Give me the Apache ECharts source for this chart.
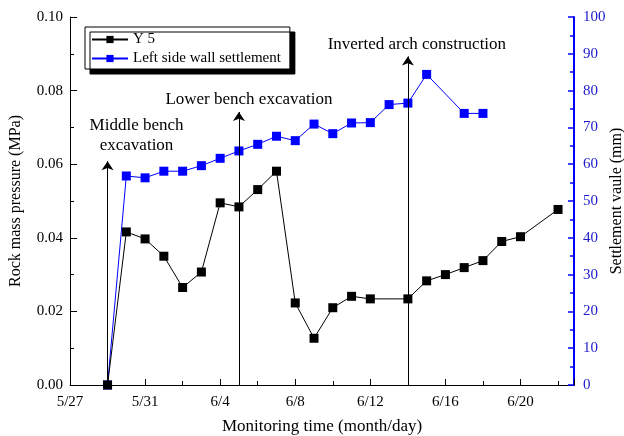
<!DOCTYPE html>
<html><head><meta charset="utf-8">
<script src="https://cdn.jsdelivr.net/npm/echarts@6/dist/echarts.min.js"></script>
<style>html,body{margin:0;padding:0;background:#fff}#c{width:624px;height:436px}</style>
</head><body><div id="c"></div>
<script>
// x values are days counted from 5/27
const xTickLabels = ['5/27','5/31','6/4','6/8','6/12','6/16','6/20'];
const y5Days = [2,3,4,5,6,7,8,9,10,11,12,13,14,15,16,18,19,20,21,22,23,24,26];
const y5Values = [0,0.0416,0.0397,0.035,0.0265,0.0307,0.0495,0.0484,0.0531,0.0581,0.0223,0.0127,0.021,0.0241,0.0234,0.0234,0.0283,0.030,0.0319,0.0338,0.039,0.0403,0.0477];
const settleDays = [2,3,4,5,6,7,8,9,10,11,12,13,14,15,16,17,18,19,21,22];
const settleValues = [0,56.8,56.3,58.1,58.1,59.6,61.6,63.6,65.4,67.6,66.4,70.9,68.3,71.2,71.3,76.2,76.6,84.4,73.8,73.8];
const eventDays = [2,9,18];
const eventTops = [0.0608,0.0742,0.0893];
const eventNames = ['Middle bench\nexcavation','Lower bench excavation','Inverted arch construction'];

const FONT = 'Liberation Serif';
const BLUE = '#0000ff';
const chart = echarts.init(document.getElementById('c'));
const labelPads = [[0,0,4,58],[0,0,0,20],[0,0,0,18]];
const markData = eventDays.map((d,i)=>[
  {coord:[d,0], name:eventNames[i], label:{padding:labelPads[i]}},
  {coord:[d,eventTops[i]]}
]);
chart.setOption({
  animation:false,
  textStyle:{fontFamily:FONT},
  grid:{left:70,right:50,top:17,bottom:51,containLabel:false,outerBoundsMode:'none'},
  legend:{
    orient:'vertical',left:85,top:27,
    data:['Y 5','Left side wall settlement'],
    itemWidth:36,itemHeight:9,itemGap:4,
    padding:[5,9,3,6],
    borderColor:'#000',borderWidth:1,backgroundColor:'#fff',
    shadowColor:'#000',shadowOffsetX:5,shadowOffsetY:5,shadowBlur:0.01,
    textStyle:{fontFamily:FONT,fontSize:15,color:'#000'}
  },
  xAxis:{
    type:'value',min:0,max:26.85,interval:4,
    name:'Monitoring time (month/day)',nameLocation:'middle',nameGap:33,nameMoveOverlap:false,
    nameTextStyle:{fontFamily:FONT,fontSize:17,color:'#000'},
    axisLine:{show:true,lineStyle:{color:'#000',width:1}},
    axisTick:{inside:true,length:6,lineStyle:{color:'#000'}},
    minorTick:{show:true,splitNumber:2,length:4,lineStyle:{color:'#000'}},
    axisLabel:{fontFamily:FONT,fontSize:15,color:'#000',margin:10,showMaxLabel:false,
      formatter:v=> (Math.abs(v%4)<1e-6 ? (xTickLabels[Math.round(v/4)]||'') : '')},
    splitLine:{show:false}
  },
  yAxis:[{
    type:'value',min:0,max:0.1,interval:0.02,position:'left',
    name:'Rock mass pressure (MPa)',nameLocation:'middle',nameGap:46,nameMoveOverlap:false,
    nameTextStyle:{fontFamily:FONT,fontSize:16,color:'#000'},
    axisLine:{show:true,lineStyle:{color:'#000',width:1}},
    axisTick:{show:true,inside:true,length:7,lineStyle:{color:'#000'}},
    minorTick:{show:true,splitNumber:2,length:4,lineStyle:{color:'#000'}},
    axisLabel:{fontFamily:FONT,fontSize:15,color:'#000',margin:7,formatter:v=>v.toFixed(2)},
    splitLine:{show:false}
  },{
    type:'value',min:0,max:100,interval:10,position:'right',
    name:'Settlement vaule (mm)',nameLocation:'middle',nameGap:35,nameRotate:90,nameMoveOverlap:false,
    nameTextStyle:{fontFamily:FONT,fontSize:16,color:'#000'},
    axisLine:{show:true,lineStyle:{color:BLUE,width:2}},
    axisTick:{show:true,inside:true,length:6,lineStyle:{color:BLUE,width:1.5}},
    minorTick:{show:true,splitNumber:2,length:4,lineStyle:{color:BLUE,width:1.5}},
    axisLabel:{fontFamily:FONT,fontSize:15,color:'#1a1acc',margin:9},
    splitLine:{show:false}
  }],
  series:[{
    name:'Y 5',type:'line',yAxisIndex:0,
    data:y5Days.map((d,i)=>[d,y5Values[i]]),
    symbol:'rect',symbolSize:9,
    itemStyle:{color:'#000'},lineStyle:{color:'#000',width:1},
    markLine:{
      silent:true,symbol:['none','arrow'],symbolSize:9,precision:4,
      lineStyle:{color:'#000',width:1,type:'solid'},
      label:{show:true,position:'end',distance:2,formatter:p=>p.name,
        fontFamily:FONT,fontSize:17,color:'#000',lineHeight:20,align:'center'},
      data:markData
    },
    z:3
  },{
    name:'Left side wall settlement',type:'line',yAxisIndex:1,
    data:settleDays.map((d,i)=>[d,settleValues[i]]),
    symbol:'rect',symbolSize:9,
    itemStyle:{color:BLUE},lineStyle:{color:BLUE,width:1},
    z:2
  }]
});
</script></body></html>
